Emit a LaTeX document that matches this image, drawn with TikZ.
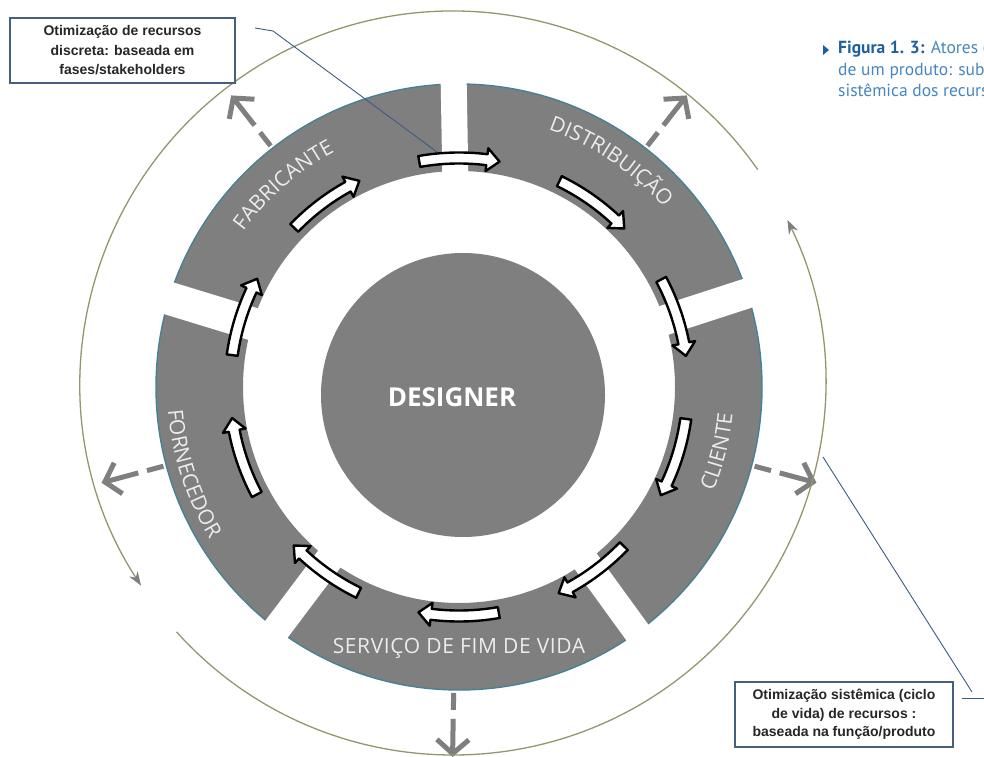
\documentclass[tikz,border=0pt]{standalone}
\usepackage{fontspec}
\setmainfont{Open Sans}
\newfontfamily\ringfont[LetterSpace=3]{Open Sans}
\newfontfamily\boxfont{Liberation Sans}
\newfontfamily\capfont{PT Sans}
\usetikzlibrary{arrows.meta,decorations.text,calc}
\definecolor{ringgray}{RGB}{127,127,127}
\definecolor{ringedge}{RGB}{70,130,150}
\definecolor{arcolive}{RGB}{150,150,110}
\definecolor{leaderblue}{RGB}{60,90,135}
\definecolor{boxedge}{RGB}{70,95,125}
\definecolor{capblue}{RGB}{30,95,160}
\definecolor{caplight}{RGB}{70,135,195}
\definecolor{labelwhite}{RGB}{236,236,236}
\tikzset{
  blockarrow/.style={fill=white,draw=black,line width=2.4pt,line join=round},
  gdash/.style={draw=ringgray,line width=5pt},
  outerarc/.style={draw=arcolive,line width=1.3pt},
  leader/.style={draw=leaderblue,line width=0.9pt},
  textbox/.style={draw=boxedge,line width=1.8pt,fill=white,align=center,inner sep=0pt,
    font=\boxfont\bfseries\fontsize{14}{19.5}\selectfont,text=black!85},
  ringlabel/.style={decorate,decoration={text along path,text align=center,
    text={|\ringfont\fontsize{21}{21}\selectfont\color{labelwhite}|#1}}}
}
\begin{document}
\begin{tikzpicture}[x=1pt,y=1pt]
\useasboundingbox (0,0) rectangle (984,756);
\fill[white] (0,0) rectangle (984,756);
\coordinate (C) at (459,369);
\coordinate (O) at (453,373);
% ring
\fill[ringgray,even odd rule] (C) circle[radius=303] (C) circle[radius=216];
\draw[ringedge,line width=1.4pt] (C) circle[radius=303];
\foreach \a/\w in {91/26,18/30,-54/27,-127/28,163/33}
  \draw[white,line width=\w pt] ($(C)+(\a:195)$) -- ($(C)+(\a:320)$);
% designer
\node[circle,fill=ringgray,minimum size=284pt,inner sep=0pt] (des) at (463,361) {};
\node[text=white,font=\bfseries\fontsize{26}{26}\selectfont] (desl) at (452,359) {DESIGNER};
% labels
\path[ringlabel=FABRICANTE] ($(C)+(166:266)$) arc[start angle=166,end angle=96,radius=266];
\path[ringlabel=DISTRIBUIÇÃO] ($(C)+(90:272)$) arc[start angle=90,end angle=22,radius=272];
\path[ringlabel=CLIENTE] ($(C)+(-40:275)$) arc[start angle=-40,end angle=12,radius=275];
\path[ringlabel=FORNECEDOR] ($(C)+(163:292)$) arc[start angle=163,end angle=233,radius=292];
\node[text=labelwhite,font=\ringfont\fontsize{21}{21}\selectfont] (serv) at (459,108) {SERVIÇO DE FIM DE VIDA};
% white block arrows
\foreach \t in {90,54,18,-18,-54,-90,-126,-162,162,126} {
  \draw[blockarrow] ($(C)+(\t+10:234.5)$) arc[start angle=\t+10,end angle=\t-7,radius=234.5]
    -- ($(C)+(\t-7:240.5)$) -- ($(C)+(\t-10.2:229)$) -- ($(C)+(\t-7:217.5)$)
    -- ($(C)+(\t-7:223.5)$) arc[start angle=\t-7,end angle=\t+10,radius=223.5] -- cycle;
}
% dashed outward arrows
\foreach \t/\n in {128/fab,52/dis,-15/cli,-91/ser,-165/for} {
  \coordinate (\n0) at ($(C)+(\t:306)$);
  \coordinate (\n1) at ($(C)+(\t:323)$);
  \coordinate (\n2) at ($(C)+(\t:332)$);
  \coordinate (\n3) at ($(C)+(\t:370)$);
  \draw[gdash] (\n0) -- (\n1);
  \draw[gdash,-{Straight Barb[length=14pt,width=32pt]}] (\n2) -- (\n3);
}
% outer arcs
\draw[outerarc,-{Stealth[length=14pt,width=10pt,color=ringgray]}]
  ($(O)+(35:372)$) arc[start angle=35,end angle=213,radius=372];
\draw[outerarc,-{Stealth[length=14pt,width=10pt,color=ringgray]}]
  ($(O)+(-138:372)$) arc[start angle=-138,end angle=26,radius=372];
% text boxes
\node[textbox,minimum width=225pt,minimum height=65pt] (b1) at (122.5,705.5)
  {Otimização de recursos\\discreta: baseada em\\fases/stakeholders};
\node[textbox,minimum width=218pt,minimum height=65pt,
  font=\boxfont\bfseries\fontsize{14}{18.5}\selectfont] (b2) at (844,41.5)
  {Otimização sistêmica (ciclo\\de vida) de recursos :\\baseada na função/produto};
% leader lines
\coordinate (l1a) at (255,728);
\coordinate (l1b) at (273,725);
\coordinate (l1c) at (437,604);
\draw[leader] (l1a) -- (l1b) -- (l1c);
\coordinate (l2a) at (823,299);
\coordinate (l2b) at (972,64);
\coordinate (l2c) at (962,58);
\coordinate (l2d) at (984,58);
\draw[leader] (l2a) -- (l2b);
\draw[leader] (l2c) -- (l2d);
% caption
\fill[capblue] (823,711) -- (823,701) -- (829,706) -- cycle;
\node[anchor=base west,inner sep=0pt,font=\capfont\fontsize{17.5}{21}\selectfont] (cap1) at (838,702)
  {\textcolor{capblue}{\bfseries Figura 1. 3:} \textcolor{caplight}{Atores e}};
\node[anchor=base west,inner sep=0pt,font=\capfont\fontsize{17.5}{21}\selectfont,text=caplight] (cap2) at (838,680.5)
  {de um produto: sub};
\node[anchor=base west,inner sep=0pt,font=\capfont\fontsize{17.5}{21}\selectfont,text=caplight] (cap3) at (838,659)
  {sistêmica dos recurs};
\end{tikzpicture}
\end{document}
